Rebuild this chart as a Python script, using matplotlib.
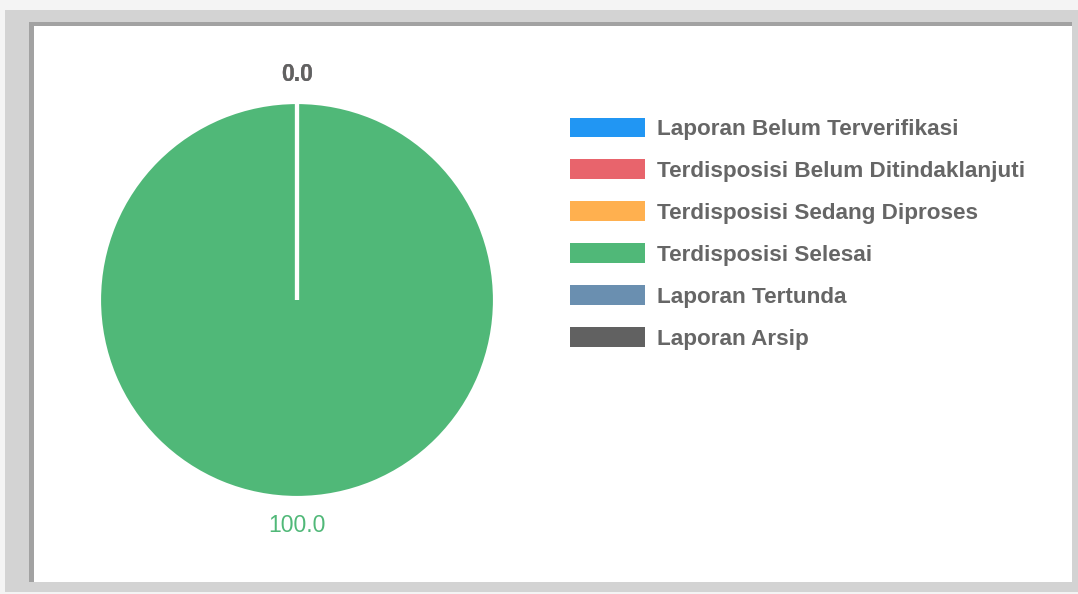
import matplotlib.pyplot as plt
from matplotlib.patches import Rectangle

# ----------------------------
# Data
# ----------------------------
categories = [
    "Laporan Belum Terverifikasi",
    "Terdisposisi Belum Ditindaklanjuti",
    "Terdisposisi Sedang Diproses",
    "Terdisposisi Selesai",
    "Laporan Tertunda",
    "Laporan Arsip",
]
values = [0.0, 0.0, 0.0, 100.0, 0.0, 0.0]
colors = ["#2196f3", "#e8646c", "#ffb04f", "#50b878", "#6a8fb0", "#616161"]

W, H = 1078, 594
plt.rcParams["font.family"] = ["Liberation Sans", "DejaVu Sans"]

fig = plt.figure(figsize=(W / 100, H / 100), dpi=100)
fig.patch.set_facecolor("#f4f4f4")


def px_rect(x0, y0, x1, y1, color, z):
    # rectangle given in pixel coords from the top-left corner
    r = Rectangle((x0 / W, 1 - y1 / H), (x1 - x0) / W, (y1 - y0) / H,
                  transform=fig.transFigure, facecolor=color,
                  edgecolor="none", zorder=z)
    fig.add_artist(r)


# card with shadow
px_rect(5, 10, 1078, 592, "#d3d3d3", -30)
px_rect(29, 22, 1072, 582, "#a2a2a2", -20)
px_rect(34, 26, 1072, 582, "white", -10)

# ----------------------------
# Pie
# ----------------------------
R = 198
cx, cy = 297, 300
lim = 1.5
side = 2 * lim * R
ax = fig.add_axes([(cx - side / 2) / W, (H - cy - side / 2) / H, side / W, side / H])
ax.axis("off")
ax.patch.set_alpha(0)

wedges, texts = ax.pie(
    values,
    colors=colors,
    startangle=90,
    counterclock=False,
    labels=[f"{v:.1f}" for v in values],
    labeldistance=1.14,
    wedgeprops=dict(edgecolor="white", linewidth=3),
    textprops=dict(fontsize=16.5),
)
ax.set_xlim(-lim, lim)
ax.set_ylim(-lim, lim)
ax.set_aspect("equal")
for t, c, v in zip(texts, colors, values):
    t.set_color(c)
    t.set_ha("center")
    t.set_va("center")
    if v == 0:
        t.set_fontweight("bold")

# ----------------------------
# Legend
# ----------------------------
fs = 16.2
em = fs * 100 / 72
leg = fig.legend(
    wedges, categories,
    loc="upper left",
    bbox_to_anchor=(570 / W, 1 - 117.5 / H),
    frameon=False,
    fontsize=fs,
    handlelength=75 / em,
    handleheight=22 / em,
    handletextpad=12 / em,
    labelspacing=0.86,
    borderpad=0,
    borderaxespad=0,
)
for txt in leg.get_texts():
    txt.set_color("#666666")
    txt.set_fontweight("bold")
for h in leg.legend_handles:
    h.set_edgecolor("none")

fig.savefig("out.png", dpi=100, facecolor=fig.get_facecolor())
